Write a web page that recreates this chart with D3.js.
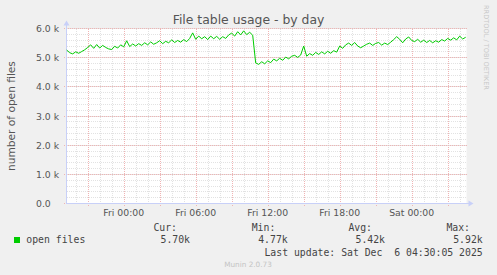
<!DOCTYPE html>
<html>
<head>
<meta charset="utf-8">
<script src="https://cdn.jsdelivr.net/npm/d3@7"></script>
<style>
  html, body { margin: 0; padding: 0; background: #f0f0f0; }
  svg { display: block; }
  text { font-family: 'DejaVu Sans', sans-serif; }
  .mono { font-family: 'DejaVu Sans Mono', monospace; white-space: pre; }
</style>
</head>
<body>
<div id="chart"></div>
<script>
// open files, one reading every 15 minutes from Thu 19:15
const startTime = new Date(2025, 11, 4, 19, 15)
const openFiles = [
  5260, 5170, 5130, 5200, 5150, 5210, 5270, 5350, 5440, 5320,
  5450, 5330, 5420, 5350, 5300, 5280, 5390, 5330, 5440, 5370,
  5580, 5380, 5470, 5400, 5480, 5420, 5510, 5440, 5540, 5460,
  5510, 5580, 5480, 5560, 5510, 5610, 5520, 5590, 5530, 5620,
  5550, 5660, 5850, 5630, 5740, 5650, 5720, 5620, 5740, 5650,
  5730, 5630, 5720, 5660, 5780, 5840, 5740, 5890, 5780, 5920,
  5790, 5870, 5770, 4820, 4770, 4860, 4790, 4890, 4830, 4950,
  4890, 4980, 4910, 5020, 4960, 5050, 5080, 5010, 5090, 5400,
  5050, 5140, 5080, 5180, 5110, 5200, 5130, 5220, 5150, 5240,
  5190, 5400, 5320, 5440, 5500, 5420, 5520, 5400, 5340, 5400,
  5460, 5500, 5420, 5490, 5520, 5430, 5500, 5450, 5530, 5620,
  5720, 5630, 5510, 5640, 5710, 5590, 5550, 5630, 5530, 5600,
  5520, 5590, 5510, 5580, 5530, 5620, 5570, 5660, 5600, 5680,
  5610, 5740, 5640, 5700
]
const yTickValues = [0, 1000, 2000, 3000, 4000, 5000, 6000]
const yTickLabels = ['0.0', '1.0 k', '2.0 k', '3.0 k', '4.0 k', '5.0 k', '6.0 k']
const legendHeaders = ['Cur:', 'Min:', 'Avg:', 'Max:']
const legendValues = ['5.70k', '4.77k', '5.42k', '5.92k']
const lastUpdate = 'Last update: Sat Dec  6 04:30:05 2025'

const width = 497
const height = 275
const plot = { left: 66.5, right: 466.5, top: 28.5, bottom: 203.5 }

const svg = d3
  .select('#chart')
  .append('svg')
  .attr('width', width)
  .attr('height', height)

svg.append('rect').attr('width', width).attr('height', height).attr('fill', '#f0f0f0')

const endTime = new Date(2025, 11, 6, 4, 34)
const x = d3
  .scaleTime()
  .domain([d3.timeSecond.offset(endTime, -400 * 300), endTime])
  .range([plot.left, plot.right])
const y = d3.scaleLinear().domain([0, 6000]).range([plot.bottom, plot.top])

const data = openFiles.map((v, i) => ({ t: d3.timeMinute.offset(startTime, i * 15), v: v }))

svg
  .append('rect')
  .attr('x', plot.left)
  .attr('y', plot.top)
  .attr('width', plot.right - plot.left)
  .attr('height', plot.bottom - plot.top)
  .attr('fill', '#ffffff')

const grid = svg.append('g').attr('shape-rendering', 'crispEdges')
const minorColor = '#e2e2e2'
const majorColor = '#f0b4b4'

// minor grid
grid
  .selectAll('.vminor')
  .data(x.ticks(d3.timeHour.every(1)))
  .enter()
  .append('line')
  .attr('x1', d => Math.round(x(d)) + 0.5)
  .attr('x2', d => Math.round(x(d)) + 0.5)
  .attr('y1', plot.top)
  .attr('y2', plot.bottom)
  .attr('stroke', minorColor)
  .attr('stroke-dasharray', '1,1')

grid
  .selectAll('.hminor')
  .data(d3.range(0, 6001, 200))
  .enter()
  .append('line')
  .attr('x1', plot.left)
  .attr('x2', plot.right)
  .attr('y1', d => Math.round(y(d) - 0.5) + 0.5)
  .attr('y2', d => Math.round(y(d) - 0.5) + 0.5)
  .attr('stroke', minorColor)
  .attr('stroke-dasharray', '1,1')

// major grid
grid
  .selectAll('.vmajor')
  .data(x.ticks(d3.timeHour.every(3)))
  .enter()
  .append('line')
  .attr('x1', d => Math.round(x(d)) + 0.5)
  .attr('x2', d => Math.round(x(d)) + 0.5)
  .attr('y1', plot.top)
  .attr('y2', plot.bottom + 2)
  .attr('stroke', majorColor)
  .attr('stroke-dasharray', '1,1')

grid
  .selectAll('.hmajor')
  .data(yTickValues)
  .enter()
  .append('line')
  .attr('x1', plot.left - 3)
  .attr('x2', plot.right)
  .attr('y1', d => Math.round(y(d) - 0.5) + 0.5)
  .attr('y2', d => Math.round(y(d) - 0.5) + 0.5)
  .attr('stroke', majorColor)
  .attr('stroke-dasharray', '1,1')

// axes
const axisColor = '#c8d0f8'
grid
  .append('line')
  .attr('x1', plot.left)
  .attr('x2', plot.left)
  .attr('y1', plot.bottom)
  .attr('y2', plot.top - 4)
  .attr('stroke', axisColor)
grid
  .append('line')
  .attr('x1', plot.left)
  .attr('x2', plot.right + 3)
  .attr('y1', plot.bottom)
  .attr('y2', plot.bottom)
  .attr('stroke', axisColor)
svg
  .append('path')
  .attr('d', `M${plot.left - 3},${plot.top - 3} L${plot.left},${plot.top - 8} L${plot.left + 3},${plot.top - 3} Z`)
  .attr('fill', axisColor)
svg
  .append('path')
  .attr('d', `M${plot.right + 2},${plot.bottom - 3} L${plot.right + 7},${plot.bottom} L${plot.right + 2},${plot.bottom + 3} Z`)
  .attr('fill', axisColor)

// data line
const line = d3
  .line()
  .x(d => x(d.t))
  .y(d => y(d.v))

svg
  .append('path')
  .datum(data)
  .attr('d', line)
  .attr('fill', 'none')
  .attr('stroke', '#00cc00')
  .attr('stroke-width', 1)

// tick labels
svg
  .selectAll('.ylabel')
  .data(yTickValues)
  .enter()
  .append('text')
  .attr('x', 36)
  .attr('y', d => y(d) + 3.5)
  .attr('font-size', '9.3px')
  .attr('fill', '#555555')
  .text((d, i) => yTickLabels[i])

const fmt = d3.timeFormat('%a %H:%M')
svg
  .selectAll('.xlabel')
  .data(x.ticks(d3.timeHour.every(6)))
  .enter()
  .append('text')
  .attr('x', d => x(d))
  .attr('y', 215.5)
  .attr('text-anchor', 'middle')
  .attr('font-size', '9.3px')
  .attr('fill', '#555555')
  .text(d => fmt(d))

// titles
svg
  .append('text')
  .attr('x', 248.5)
  .attr('y', 24)
  .attr('text-anchor', 'middle')
  .attr('font-size', '12.4px')
  .attr('fill', '#555555')
  .text('File table usage - by day')

svg
  .append('text')
  .attr('transform', 'translate(15,116) rotate(-90)')
  .attr('text-anchor', 'middle')
  .attr('font-size', '10.6px')
  .attr('fill', '#555555')
  .text('number of open files')

svg
  .append('text')
  .attr('transform', 'translate(484,5) rotate(90)')
  .attr('font-size', '6.6px')
  .attr('fill', '#c8c8c8')
  .text('RRDTOOL / TOBI OETIKER')

// legend
svg
  .append('rect')
  .attr('x', 14)
  .attr('y', 237)
  .attr('width', 6)
  .attr('height', 6)
  .attr('fill', '#00cc00')

svg
  .append('text')
  .attr('class', 'mono')
  .attr('x', 26.3)
  .attr('y', 243)
  .attr('font-size', '9.8px')
  .attr('fill', '#444444')
  .text('open files')

const headerEnds = [177, 275.3, 372, 470]
const valueEnds = [190, 287.7, 385, 482.7]

svg
  .selectAll('.lhead')
  .data(legendHeaders)
  .enter()
  .append('text')
  .attr('class', 'mono')
  .attr('x', (d, i) => headerEnds[i])
  .attr('y', 231)
  .attr('text-anchor', 'end')
  .attr('font-size', '9.8px')
  .attr('fill', '#444444')
  .text(d => d)

svg
  .selectAll('.lval')
  .data(legendValues)
  .enter()
  .append('text')
  .attr('class', 'mono')
  .attr('x', (d, i) => valueEnds[i])
  .attr('y', 243)
  .attr('text-anchor', 'end')
  .attr('font-size', '9.8px')
  .attr('fill', '#444444')
  .text(d => d)

svg
  .append('text')
  .attr('class', 'mono')
  .attr('x', 482.7)
  .attr('y', 255.5)
  .attr('text-anchor', 'end')
  .attr('font-size', '9.8px')
  .attr('fill', '#444444')
  .text(lastUpdate)

svg
  .append('text')
  .attr('x', 248)
  .attr('y', 266.5)
  .attr('text-anchor', 'middle')
  .attr('font-size', '7.3px')
  .attr('fill', '#c4c4c4')
  .text('Munin 2.0.73')
</script>
</body>
</html>
